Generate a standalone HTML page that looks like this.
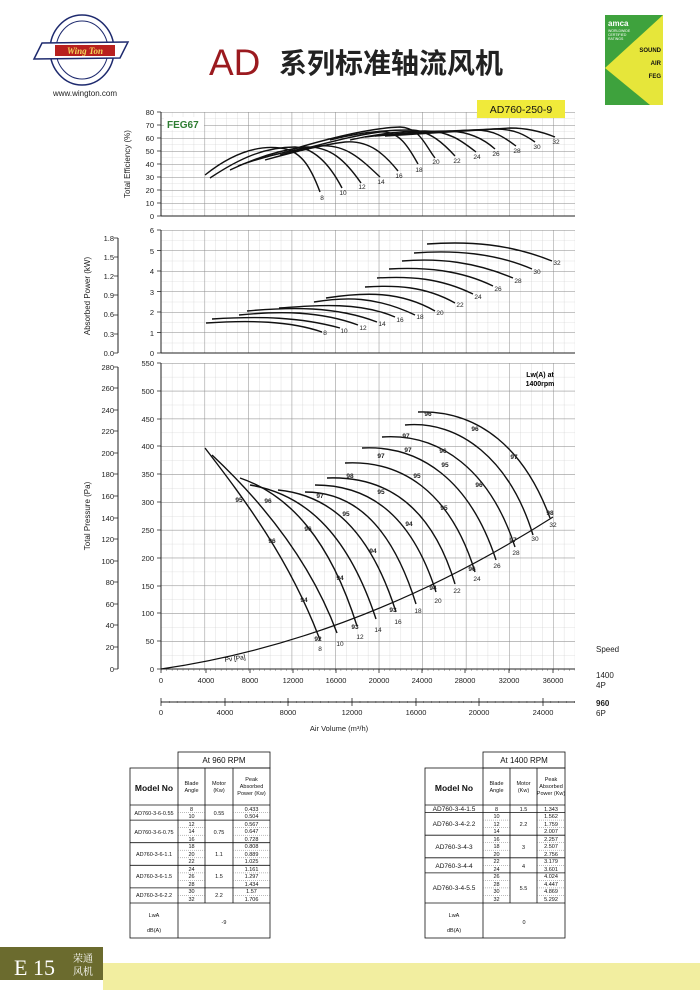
<!DOCTYPE html>
<html><head><meta charset="utf-8"><style>
html,body{margin:0;padding:0;background:#fff}
svg{display:block;font-family:"Liberation Sans",Arial,sans-serif}
</style></head><body>
<svg width="700" height="990" viewBox="0 0 700 990" xmlns="http://www.w3.org/2000/svg">
<defs>
<pattern id="gx" x="161" y="0" width="10.889" height="990" patternUnits="userSpaceOnUse"><line x1="0" y1="0" x2="0" y2="990" stroke="#c8c8c8" stroke-width="0.6"/></pattern>
<pattern id="gX" x="161" y="0" width="43.556" height="990" patternUnits="userSpaceOnUse"><line x1="0" y1="0" x2="0" y2="990" stroke="#8a8a8a" stroke-width="0.9"/></pattern>
<pattern id="e1" x="0" y="112" width="700" height="6.5" patternUnits="userSpaceOnUse"><line x1="0" y1="0" x2="700" y2="0" stroke="#c8c8c8" stroke-width="0.6"/></pattern>
<pattern id="e2" x="0" y="112" width="700" height="13" patternUnits="userSpaceOnUse"><line x1="0" y1="0" x2="700" y2="0" stroke="#8a8a8a" stroke-width="0.9"/></pattern>
<pattern id="p1" x="0" y="230" width="700" height="10.25" patternUnits="userSpaceOnUse"><line x1="0" y1="0" x2="700" y2="0" stroke="#c8c8c8" stroke-width="0.6"/></pattern>
<pattern id="p2" x="0" y="230" width="700" height="20.5" patternUnits="userSpaceOnUse"><line x1="0" y1="0" x2="700" y2="0" stroke="#8a8a8a" stroke-width="0.9"/></pattern>
<pattern id="t1" x="0" y="363" width="700" height="13.909" patternUnits="userSpaceOnUse"><line x1="0" y1="0" x2="700" y2="0" stroke="#c8c8c8" stroke-width="0.6"/></pattern>
<pattern id="t2" x="0" y="363" width="700" height="27.818" patternUnits="userSpaceOnUse"><line x1="0" y1="0" x2="700" y2="0" stroke="#8a8a8a" stroke-width="0.9"/></pattern>
<pattern id="mt" x="161" y="0" width="7.95" height="990" patternUnits="userSpaceOnUse"><line x1="0" y1="0" x2="0" y2="990" stroke="#222" stroke-width="0.7"/></pattern>
<pattern id="mt2" x="161" y="0" width="5.444" height="990" patternUnits="userSpaceOnUse"><line x1="0" y1="0" x2="0" y2="990" stroke="#222" stroke-width="0.6"/></pattern>
</defs>

<!-- logo -->
<ellipse cx="82" cy="50" rx="32" ry="35" fill="none" stroke="#1e2a6e" stroke-width="1.5"/>
<ellipse cx="82" cy="50" rx="26" ry="29" fill="none" stroke="#1e2a6e" stroke-width="1"/>
<path d="M34,59 L42,43 L128,42 L120,58 Z" fill="#fff" stroke="#1e2a6e" stroke-width="1.5"/>
<rect x="55" y="45" width="60" height="11" fill="#b8201e"/>
<text x="85" y="54" font-size="9" font-weight="bold" fill="#f2d55a" text-anchor="middle" font-family="Liberation Serif,serif" font-style="italic">Wing Ton</text>
<text x="85" y="96" font-size="8" text-anchor="middle" fill="#222">www.wington.com</text>

<!-- title -->
<text x="209" y="75" font-size="37" fill="#9b1a1f" font-family="Liberation Sans Narrow,Liberation Sans,sans-serif">AD</text>
<text x="279" y="73" font-size="28" font-weight="bold" fill="#222" font-family="Liberation Sans,'Noto Sans CJK SC',sans-serif">系列标准轴流风机</text>

<!-- AMCA badge -->
<rect x="605" y="15" width="58" height="90" fill="#e6e63a"/>
<polygon points="605,15 663,15 605,68" fill="#3ea23d"/>
<polygon points="605,68 605,105 650,105" fill="#3ea23d"/>
<text x="608" y="26" font-size="8" font-weight="bold" fill="#fff">amca</text>
<text x="608" y="32" font-size="3.5" fill="#fff">WORLDWIDE</text>
<text x="608" y="36" font-size="3.5" fill="#fff">CERTIFIED</text>
<text x="608" y="40" font-size="3.5" fill="#fff">RATINGS</text>
<text x="661" y="52" font-size="6" font-weight="bold" text-anchor="end" fill="#111">SOUND</text>
<text x="661" y="65" font-size="6" font-weight="bold" text-anchor="end" fill="#111">AIR</text>
<text x="661" y="78" font-size="6" font-weight="bold" text-anchor="end" fill="#111">FEG</text>

<!-- plot backgrounds & grids -->
<g>
<rect x="161" y="112" width="414" height="104" fill="url(#e1)"/>
<rect x="161" y="112" width="414" height="104" fill="url(#gx)"/>
<rect x="161" y="112" width="414" height="104" fill="url(#e2)"/>
<rect x="161" y="112" width="414" height="104" fill="url(#gX)"/>
<rect x="161" y="230" width="414" height="123" fill="url(#p1)"/>
<rect x="161" y="230" width="414" height="123" fill="url(#gx)"/>
<rect x="161" y="230" width="414" height="123" fill="url(#p2)"/>
<rect x="161" y="230" width="414" height="123" fill="url(#gX)"/>
<rect x="161" y="363" width="414" height="306" fill="url(#t1)"/>
<rect x="161" y="363" width="414" height="306" fill="url(#gx)"/>
<rect x="161" y="363" width="414" height="306" fill="url(#t2)"/>
<rect x="161" y="363" width="414" height="306" fill="url(#gX)"/>
<rect x="161" y="669" width="414" height="2" fill="url(#mt2)"/>
<rect x="161" y="701" width="414" height="2" fill="url(#mt)"/>
</g>
<g stroke="#222" stroke-width="1">
<line x1="161" y1="112" x2="161" y2="216"/><line x1="161" y1="216" x2="575" y2="216"/>
<line x1="161" y1="230" x2="161" y2="353"/><line x1="161" y1="353" x2="575" y2="353"/>
<line x1="161" y1="363" x2="161" y2="669"/><line x1="161" y1="669" x2="575" y2="669"/>
<line x1="161" y1="702" x2="575" y2="702"/>
<line x1="118" y1="238" x2="118" y2="353"/>
<line x1="118" y1="367" x2="118" y2="669"/>
</g>

<!-- FEG label & model label -->
<rect x="164" y="117" width="40" height="13" fill="#fff"/>
<text x="167" y="128" font-size="10" font-weight="bold" fill="#2e7d32">FEG67</text>
<rect x="477" y="100" width="88" height="18" fill="#f0ea3a"/>
<text x="521" y="113" font-size="10.5" text-anchor="middle" fill="#111">AD760-250-9</text>

<!-- axes labels -->
<g font-size="7.5" fill="#222" text-anchor="end">
<text x="154" y="115">80</text><text x="154" y="128">70</text><text x="154" y="141">60</text><text x="154" y="154">50</text><text x="154" y="167">40</text><text x="154" y="180">30</text><text x="154" y="193">20</text><text x="154" y="206">10</text><text x="154" y="219">0</text>
<text x="154" y="233">6</text><text x="154" y="254">5</text><text x="154" y="274">4</text><text x="154" y="295">3</text><text x="154" y="315">2</text><text x="154" y="336">1</text><text x="154" y="356">0</text>
<text x="114" y="241">1.8</text><text x="114" y="260">1.5</text><text x="114" y="279">1.2</text><text x="114" y="298">0.9</text><text x="114" y="317">0.6</text><text x="114" y="337">0.3</text><text x="114" y="356">0.0</text>
<text x="154" y="366">550</text><text x="154" y="394">500</text><text x="154" y="422">450</text><text x="154" y="449">400</text><text x="154" y="477">350</text><text x="154" y="505">300</text><text x="154" y="533">250</text><text x="154" y="561">200</text><text x="154" y="589">150</text><text x="154" y="616">100</text><text x="154" y="644">50</text><text x="154" y="672">0</text>
<text x="114" y="370">280</text><text x="114" y="391">260</text><text x="114" y="413">240</text><text x="114" y="434">220</text><text x="114" y="456">200</text><text x="114" y="477">180</text><text x="114" y="499">160</text><text x="114" y="521">140</text><text x="114" y="542">120</text><text x="114" y="564">100</text><text x="114" y="585">80</text><text x="114" y="607">60</text><text x="114" y="628">40</text><text x="114" y="650">20</text><text x="114" y="672">0</text>
</g>
<g font-size="8" fill="#222">
<text transform="translate(130,164) rotate(-90)" text-anchor="middle">Total Efficiency (%)</text>
<text transform="translate(90,296) rotate(-90)" text-anchor="middle">Absorbed Power (kW)</text>
<text transform="translate(90,516) rotate(-90)" text-anchor="middle">Total Pressure (Pa)</text>
</g>
<g stroke="#222" stroke-width="0.8">
<path d="M157,112h4M157,125h4M157,138h4M157,151h4M157,164h4M157,177h4M157,190h4M157,203h4M157,216h4"/>
<path d="M157,230h4M157,250.5h4M157,271h4M157,291.5h4M157,312h4M157,332.5h4M157,353h4"/>
<path d="M114,238h4M114,257h4M114,276h4M114,295h4M114,315h4M114,334h4M114,353h4"/>
<path d="M157,363h4M157,391h4M157,419h4M157,446h4M157,474h4M157,502h4M157,530h4M157,558h4M157,586h4M157,613h4M157,641h4M157,669h4"/>
<path d="M114,367h4M114,388h4M114,410h4M114,431h4M114,453h4M114,474h4M114,496h4M114,518h4M114,539h4M114,561h4M114,582h4M114,604h4M114,625h4M114,647h4M114,669h4"/>
<path d="M161,669v4M206,669v4M250,669v4M293,669v4M336,669v4M379,669v4M422,669v4M465,669v4M509,669v4M553,669v4"/>
<path d="M161,698v8M225,698v8M288,698v8M352,698v8M416,698v8M479,698v8M543,698v8"/>
</g>
<g font-size="7.5" fill="#222" text-anchor="middle">
<text x="161" y="683">0</text><text x="206" y="683">4000</text><text x="250" y="683">8000</text><text x="293" y="683">12000</text><text x="336" y="683">16000</text><text x="379" y="683">20000</text><text x="422" y="683">24000</text><text x="465" y="683">28000</text><text x="509" y="683">32000</text><text x="553" y="683">36000</text>
<text x="161" y="715">0</text><text x="225" y="715">4000</text><text x="288" y="715">8000</text><text x="352" y="715">12000</text><text x="416" y="715">16000</text><text x="479" y="715">20000</text><text x="543" y="715">24000</text>
<text x="339" y="731">Air Volume (m³/h)</text>
</g>
<g font-size="8" fill="#222">
<text x="596" y="652">Speed</text>
<text x="596" y="678">1400</text><text x="596" y="688">4P</text>
<text x="596" y="706" font-weight="bold">960</text><text x="596" y="716">6P</text>
</g>

<!-- efficiency curves -->
<g fill="none" stroke="#111" stroke-width="1.4">
<path d="M205,175 C230,155 255,145 280,148 C300,150 310,165 320,192"/>
<path d="M210,178 C240,158 265,147 295,147 C315,148 330,165 342,188"/>
<path d="M230,170 C255,158 280,150 305,147 C330,146 345,160 361,183"/>
<path d="M238,166 C265,156 290,150 320,146 C345,144 360,158 380,177"/>
<path d="M265,160 C290,153 320,145 345,142 C370,140 385,155 398,171"/>
<path d="M280,155 C320,145 350,136 380,132 C400,130 410,150 418,164"/>
<path d="M290,150 C330,138 370,128 400,127 C420,128 425,145 435,158"/>
<path d="M330,140 C360,132 390,130 410,130 C430,130 445,145 455,156"/>
<path d="M350,140 C380,133 405,131 425,131 C450,131 463,142 476,152"/>
<path d="M365,137 C400,133 430,131 450,131 C470,132 485,140 495,149"/>
<path d="M375,136 C420,133 450,131 475,130 C495,130 505,138 516,146"/>
<path d="M385,136 C430,133 465,131 495,129 C515,129 525,135 535,142"/>
<path d="M395,134 C440,131 480,130 510,128 C530,128 545,133 555,137"/>
</g>
<g font-size="6.5" fill="#222" text-anchor="middle">
<text x="322" y="200">8</text><text x="343" y="195">10</text><text x="362" y="189">12</text><text x="381" y="184">14</text><text x="399" y="178">16</text><text x="419" y="172">18</text><text x="436" y="164">20</text><text x="457" y="163">22</text><text x="477" y="159">24</text><text x="496" y="156">26</text><text x="517" y="153">28</text><text x="537" y="149">30</text><text x="556" y="144">32</text>
</g>

<!-- power curves -->
<g fill="none" stroke="#111" stroke-width="1.4">
<path d="M206,323 C250,320 290,321 322,332"/>
<path d="M212,319 C260,316 300,317 340,328"/>
<path d="M239,315 C280,311 320,311 358,325"/>
<path d="M247,311 C290,307 335,306 377,322"/>
<path d="M279,308 C320,305 360,302 395,317"/>
<path d="M314,302 C345,297 375,296 415,315"/>
<path d="M326,298 C365,292 400,291 435,311"/>
<path d="M365,287 C395,285 425,286 455,303"/>
<path d="M377,278 C410,276 440,278 473,294"/>
<path d="M389,269 C425,267 460,270 493,286"/>
<path d="M402,261 C440,258 475,262 513,278"/>
<path d="M414,253 C455,250 495,253 532,269"/>
<path d="M427,244 C470,241 510,244 552,261"/>
</g>
<g font-size="6.5" fill="#222" text-anchor="middle">
<text x="325" y="335">8</text><text x="344" y="333">10</text><text x="363" y="330">12</text><text x="382" y="326">14</text><text x="400" y="322">16</text><text x="420" y="319">18</text><text x="440" y="315">20</text><text x="460" y="307">22</text><text x="478" y="299">24</text><text x="498" y="291">26</text><text x="518" y="283">28</text><text x="537" y="274">30</text><text x="557" y="265">32</text>
</g>

<!-- pressure chart -->
<text x="540" y="377" font-size="7" font-weight="bold" text-anchor="middle">Lw(A) at</text>
<text x="540" y="386" font-size="7" font-weight="bold" text-anchor="middle">1400rpm</text>
<path d="M161,669 Q360,640 553,517" fill="none" stroke="#111" stroke-width="1.2"/>
<text x="225" y="662" font-size="6.5" transform="rotate(-8 225 662)">Pv [Pa]</text>
<g fill="none" stroke="#111" stroke-width="1.4">
<path d="M205,448 C245,500 290,560 320,640"/>
<path d="M212,455 C260,500 310,560 337,633"/>
<path d="M240,478 C290,495 330,540 357,626"/>
<path d="M250,485 C310,495 350,540 376,619"/>
<path d="M278,490 C330,495 370,530 396,612"/>
<path d="M305,492 C350,492 390,520 416,604"/>
<path d="M315,485 C365,485 410,510 436,592"/>
<path d="M327,478 C380,476 430,500 455,584"/>
<path d="M345,463 C400,460 450,490 475,572"/>
<path d="M362,448 C420,445 470,480 496,560"/>
<path d="M382,437 C440,433 490,470 515,547"/>
<path d="M405,425 C460,420 510,460 533,535"/>
<path d="M418,412 C480,410 525,450 550,518"/>
</g>
<g font-size="6.5" fill="#222" text-anchor="middle">
<text x="320" y="651">8</text><text x="340" y="646">10</text><text x="360" y="639">12</text><text x="378" y="632">14</text><text x="398" y="624">16</text><text x="418" y="613">18</text><text x="438" y="603">20</text><text x="457" y="593">22</text><text x="477" y="581">24</text><text x="497" y="568">26</text><text x="516" y="555">28</text><text x="535" y="541">30</text><text x="553" y="527">32</text>
</g>
<g font-size="6.5" font-weight="bold" fill="#222" text-anchor="middle">
<text x="318" y="641">92</text><text x="304" y="602">94</text><text x="272" y="543">96</text><text x="239" y="502">95</text><text x="268" y="503">96</text>
<text x="355" y="629">93</text><text x="340" y="580">94</text><text x="308" y="531">96</text><text x="320" y="498">97</text>
<text x="393" y="612">93</text><text x="373" y="553">94</text><text x="346" y="516">95</text><text x="350" y="478">98</text>
<text x="433" y="590">94</text><text x="409" y="526">94</text><text x="381" y="494">95</text><text x="381" y="458">97</text>
<text x="472" y="571">96</text><text x="444" y="510">95</text><text x="417" y="478">95</text><text x="408" y="452">97</text>
<text x="479" y="487">96</text><text x="445" y="467">95</text><text x="443" y="453">96</text><text x="406" y="438">97</text>
<text x="513" y="542">97</text><text x="514" y="459">97</text><text x="475" y="431">96</text><text x="428" y="416">96</text>
<text x="550" y="515">98</text>
</g>

<!-- left table -->
<g fill="none" stroke="#111" stroke-width="0.8">
<rect x="178" y="752" width="92" height="16"/>
<rect x="130" y="768" width="140" height="170"/>
<path d="M178,768V938M205,768V903M233,768V903M130,805H270M130,903H270M130,820.1H270M130,842.7H270M130,865.3H270M130,887.9H270"/>
</g>
<g stroke="#777" stroke-width="0.5" stroke-dasharray="1,1">
<path d="M178,812.5H205M233,812.5H270M178,827.6H205M233,827.6H270M178,835.2H205M233,835.2H270M178,850.2H205M233,850.2H270M178,857.8H205M233,857.8H270M178,872.9H205M233,872.9H270M178,880.4H205M233,880.4H270M178,895.5H205M233,895.5H270"/>
</g>
<g font-size="5.5" fill="#111" text-anchor="middle">
<text x="224" y="763" font-size="8">At 960 RPM</text>
<text x="154" y="791" font-size="8.5" font-weight="bold">Model No</text>
<text x="191.5" y="785">Blade</text><text x="191.5" y="792">Angle</text>
<text x="219" y="785">Motor</text><text x="219" y="792">(Kw)</text>
<text x="251.5" y="781">Peak</text><text x="251.5" y="788">Absorbed</text><text x="251.5" y="795">Power (Kw)</text>
<text x="154" y="815">AD760-3-6-0.55</text><text x="154" y="834">AD760-3-6-0.75</text><text x="154" y="856">AD760-3-6-1.1</text><text x="154" y="878">AD760-3-6-1.5</text><text x="154" y="897">AD760-3-6-2.2</text>
<text x="219" y="815">0.55</text><text x="219" y="834">0.75</text><text x="219" y="856">1.1</text><text x="219" y="878">1.5</text><text x="219" y="897">2.2</text>
<text x="191.5" y="811">8</text><text x="191.5" y="818">10</text><text x="191.5" y="826">12</text><text x="191.5" y="833">14</text><text x="191.5" y="841">16</text><text x="191.5" y="848">18</text><text x="191.5" y="856">20</text><text x="191.5" y="863">22</text><text x="191.5" y="871">24</text><text x="191.5" y="878">26</text><text x="191.5" y="886">28</text><text x="191.5" y="893">30</text><text x="191.5" y="901">32</text>
<text x="251.5" y="811">0.433</text><text x="251.5" y="818">0.504</text><text x="251.5" y="826">0.567</text><text x="251.5" y="833">0.647</text><text x="251.5" y="841">0.728</text><text x="251.5" y="848">0.808</text><text x="251.5" y="856">0.889</text><text x="251.5" y="863">1.025</text><text x="251.5" y="871">1.161</text><text x="251.5" y="878">1.297</text><text x="251.5" y="886">1.434</text><text x="251.5" y="893">1.57</text><text x="251.5" y="901">1.706</text>
<text x="154" y="917">LwA</text><text x="154" y="932">dB(A)</text><text x="224" y="924">-9</text>
</g>

<!-- right table -->
<g fill="none" stroke="#111" stroke-width="0.8">
<rect x="483" y="752" width="82" height="16"/>
<rect x="425" y="768" width="140" height="170"/>
<path d="M483,768V938M510,768V903M537,768V903M425,805H565M425,903H565M425,812.5H565M425,835.2H565M425,857.8H565M425,872.9H565"/>
</g>
<g stroke="#777" stroke-width="0.5" stroke-dasharray="1,1">
<path d="M483,820.1H510M537,820.1H565M483,827.6H510M537,827.6H565M483,842.7H510M537,842.7H565M483,850.2H510M537,850.2H565M483,865.3H510M537,865.3H565M483,880.4H510M537,880.4H565M483,887.9H510M537,887.9H565M483,895.5H510M537,895.5H565"/>
</g>
<g font-size="5.5" fill="#111" text-anchor="middle">
<text x="524" y="763" font-size="8">At  1400 RPM</text>
<text x="454" y="791" font-size="8.5" font-weight="bold">Model No</text>
<text x="496.5" y="785">Blade</text><text x="496.5" y="792">Angle</text>
<text x="523.5" y="785">Motor</text><text x="523.5" y="792">(Kw)</text>
<text x="551" y="781">Peak</text><text x="551" y="788">Absorbed</text><text x="551" y="795">Power (Kw)</text>
<text x="454" y="811" font-size="6.5">AD760-3-4-1.5</text><text x="454" y="826" font-size="6.5">AD760-3-4-2.2</text><text x="454" y="849" font-size="6.5">AD760-3-4-3</text><text x="454" y="868" font-size="6.5">AD760-3-4-4</text><text x="454" y="890" font-size="6.5">AD760-3-4-5.5</text>
<text x="523.5" y="811">1.5</text><text x="523.5" y="826">2.2</text><text x="523.5" y="849">3</text><text x="523.5" y="868">4</text><text x="523.5" y="890">5.5</text>
<text x="496.5" y="811">8</text><text x="496.5" y="818">10</text><text x="496.5" y="826">12</text><text x="496.5" y="833">14</text><text x="496.5" y="841">16</text><text x="496.5" y="848">18</text><text x="496.5" y="856">20</text><text x="496.5" y="863">22</text><text x="496.5" y="871">24</text><text x="496.5" y="878">26</text><text x="496.5" y="886">28</text><text x="496.5" y="893">30</text><text x="496.5" y="901">32</text>
<text x="551" y="811">1.343</text><text x="551" y="818">1.562</text><text x="551" y="826">1.759</text><text x="551" y="833">2.007</text><text x="551" y="841">2.257</text><text x="551" y="848">2.507</text><text x="551" y="856">2.756</text><text x="551" y="863">3.179</text><text x="551" y="871">3.601</text><text x="551" y="878">4.024</text><text x="551" y="886">4.447</text><text x="551" y="893">4.869</text><text x="551" y="901">5.292</text>
<text x="454" y="917">LwA</text><text x="454" y="932">dB(A)</text><text x="524" y="924">0</text>
</g>

<!-- footer -->
<rect x="103" y="963" width="597" height="27" fill="#f2eea0"/>
<rect x="0" y="947" width="103" height="33" fill="#6b6b2e"/>
<text x="14" y="975" font-size="22" fill="#fff" font-family="Liberation Serif,serif">E 15</text>
<text x="73" y="962" font-size="10" fill="#fff" font-family="Liberation Serif,'Noto Serif CJK SC',serif">荣通</text>
<text x="73" y="975" font-size="10" fill="#fff" font-family="Liberation Serif,'Noto Serif CJK SC',serif">风机</text>
</svg>
</body></html>
